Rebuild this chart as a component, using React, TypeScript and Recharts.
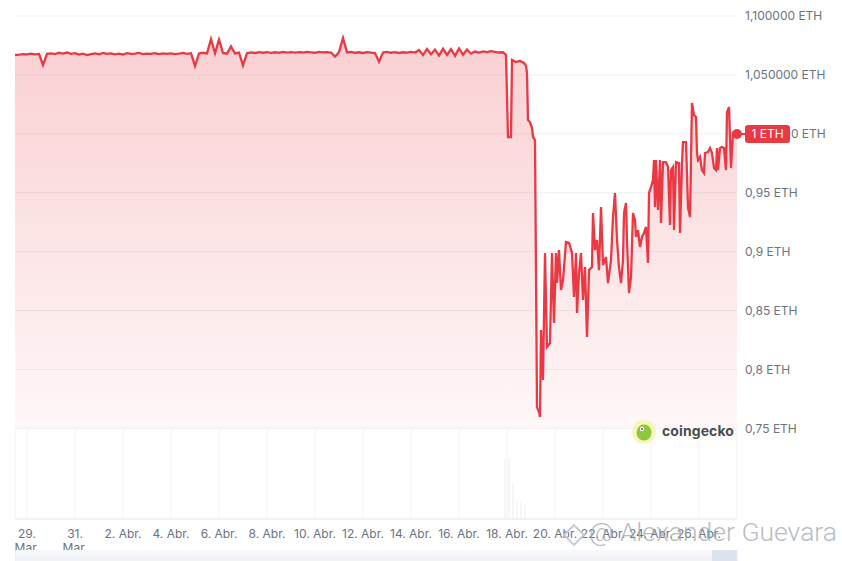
import React from "react";
import {
  ComposedChart,
  Area,
  Bar,
  XAxis,
  YAxis,
  CartesianGrid,
  ReferenceDot,
} from "recharts";

// time is in hours since 29 Mar 00:00
const steadyStartHour = -12;
const steadyStepHours = 4;
const steadyPrices = [
  1.0669, 1.0672, 1.0677, 1.0675, 1.068, 1.0674, 1.0678, 1.0584, 1.0679, 1.0683,
  1.0676, 1.0688, 1.0681, 1.069, 1.0679, 1.0685, 1.0672, 1.068, 1.0668, 1.0676,
  1.0683, 1.0674, 1.0686, 1.0679, 1.0682, 1.0675, 1.0681, 1.0673, 1.0684, 1.0678,
  1.068, 1.0686, 1.0676, 1.0681, 1.0679, 1.0684, 1.0677, 1.0682, 1.0679, 1.0683,
  1.0676, 1.0681, 1.0687, 1.0679, 1.0684, 1.0576, 1.0682, 1.0688, 1.0683, 1.0805,
  1.0684, 1.08, 1.0686, 1.068, 1.0742, 1.0682, 1.069, 1.058, 1.0684, 1.0691,
  1.0686, 1.0693, 1.0688, 1.0694, 1.0687, 1.0692, 1.0688, 1.0696, 1.069, 1.0694,
  1.0689, 1.0693, 1.069, 1.0696, 1.0692, 1.0688, 1.0695, 1.0691, 1.0694, 1.069,
  1.0655, 1.0693, 1.0813, 1.0691, 1.0696, 1.0688, 1.0692, 1.0686, 1.0694, 1.069,
  1.0685, 1.0612, 1.069, 1.0695, 1.0688, 1.0693, 1.0686, 1.0692, 1.0689, 1.0695,
  1.069, 1.0712, 1.0668, 1.072, 1.0675, 1.0715, 1.0664, 1.0722, 1.067, 1.0718,
  1.0662, 1.0725, 1.0672, 1.0716, 1.068, 1.0698, 1.069, 1.07, 1.0694, 1.0702,
  1.0696, 1.069, 1.0692,
];

const depegHours = [
  479, 481, 484, 485, 489, 493, 497, 499, 500, 501, 503, 505, 506, 508, 510, 512,
  513, 514, 516, 518, 520, 523, 525, 527, 529, 530, 532, 534, 536, 539, 542, 545,
  547, 549, 550, 552, 554, 556, 558, 560, 562, 565, 566, 568, 570, 572, 574, 576,
  579, 581, 584, 586, 588, 590, 592, 594, 596, 597, 599, 600, 602, 604, 606, 608,
  609, 611, 613, 615, 617, 619, 621, 622, 624, 626, 627, 628, 629, 631, 633, 634,
  636, 639, 641, 643, 644, 646, 647, 649, 652, 653, 655, 656, 659, 661, 663, 665,
  667, 669, 670, 671, 673, 675, 677, 678, 681, 683, 685, 687, 689, 690, 691, 693,
  695, 697, 699, 700, 702, 704, 706, 710,
];
const depegPrices = [
  1.0669, 0.9973, 0.9973, 1.0627, 1.061, 1.0618, 1.0601, 1.0576, 1.0516, 1.0117,
  1.01, 1.0049, 0.9973, 0.9947, 0.768, 0.7638, 0.7596, 0.8334, 0.791, 0.8988,
  0.819, 0.8224, 0.8988, 0.8394, 0.8988, 0.8733, 0.9013, 0.8674, 0.8759, 0.9081,
  0.9073, 0.8988, 0.8614, 0.8988, 0.8479, 0.8818, 0.8988, 0.8589, 0.8869, 0.8275,
  0.8843, 0.8869, 0.9327, 0.9013, 0.9098, 0.8843, 0.9378, 0.8886, 0.8954, 0.8733,
  0.8928, 0.9293, 0.9497, 0.9098, 0.8869, 0.8733, 0.8928, 0.9327, 0.9412, 0.9098,
  0.8648, 0.8784, 0.9327, 0.9268, 0.9124, 0.9183, 0.9039, 0.9124, 0.9158, 0.9209,
  0.8903, 0.9497, 0.9548, 0.9608, 0.9777, 0.9378, 0.9777, 0.9353, 0.9777, 0.9243,
  0.976, 0.976, 0.9718, 0.9226, 0.9692, 0.9718, 0.9183, 0.976, 0.9752, 0.9158,
  0.9752, 0.993, 0.993, 0.9378, 0.9293, 1.0261, 1.0159, 1.0142, 0.9837, 0.9777,
  0.9803, 0.9692, 0.9667, 0.9837, 0.9845, 0.9879, 0.9837, 0.9709, 0.9692, 0.9879,
  0.9692, 0.9879, 0.9888, 0.9879, 0.9692, 1.0185, 1.0227, 0.9709, 1.0007, 0.9998,
];

const volumeHours = [478, 482, 486, 490, 494, 498];
const volumes = [100, 100, 58, 30, 30, 25];

const tickHours = [0, 48, 96, 144, 192, 240, 288, 336, 384, 432, 480, 528, 576, 624, 672];
const tickLabels = [
  "29.|Mar.", "31.|Mar.", "2. Abr.", "4. Abr.", "6. Abr.", "8. Abr.", "10. Abr.",
  "12. Abr.", "14. Abr.", "16. Abr.", "18. Abr.", "20. Abr.", "22. Abr.", "24. Abr.",
  "26. Abr.",
];

const priceTicks = [0.75, 0.8, 0.85, 0.9, 0.95, 1, 1.05, 1.1];
const priceTickLabels = [
  "0,75 ETH", "0,8 ETH", "0,85 ETH", "0,9 ETH", "0,95 ETH", "1,000000 ETH",
  "1,050000 ETH", "1,100000 ETH",
];

const RED = "#ea3943";
const FONT = "Inter, 'Noto Sans', sans-serif";
const hourDomain = [-12, 710];
const priceDomain = [0.673, 1.1];

const priceRows = [
  ...steadyPrices.map((price, i) => ({ hour: steadyStartHour + i * steadyStepHours, price })),
  ...depegHours.map((hour, i) => ({ hour, price: depegPrices[i] })),
];
const volumeRows = volumeHours.map((hour, i) => ({ hour, volume: volumes[i] }));
const data = [...priceRows, ...volumeRows].sort((a, b) => a.hour - b.hour);

const lastHour = depegHours[depegHours.length - 1];
const lastPrice = depegPrices[depegPrices.length - 1];

const DateTick = (props: any) => {
  const { x, y, payload } = props;
  const label = tickLabels[tickHours.indexOf(payload.value)] || "";
  const lines = label.split("|");
  return (
    <text x={x} y={y} textAnchor="middle" fill="#6b7280" fontSize={12} fontFamily={FONT}>
      {lines.map((line, i) => (
        <tspan key={i} x={x} dy={i === 0 ? 19 : 14}>
          {line}
        </tspan>
      ))}
    </text>
  );
};

const PriceBadge = (props: any) => {
  const { cx, cy } = props;
  return (
    <g>
      <line x1={cx} y1={cy} x2={cx + 10} y2={cy} stroke={RED} strokeWidth={2} />
      <circle cx={cx} cy={cy} r={5} fill={RED} />
      <rect x={cx + 8} y={cy - 9} width={45} height={18} rx={3} fill={RED} />
      <text
        x={cx + 30.5}
        y={cy + 4}
        textAnchor="middle"
        fill="#fff"
        fontSize={12}
        fontFamily={FONT}
      >
        1 ETH
      </text>
    </g>
  );
};

const VolumeGridLine = (props: any) => {
  const { x1, x2, y2, key } = props;
  return <line key={key} x1={x1} x2={x2} y1={y2 - 91} y2={y2} stroke="#f2f3f6" />;
};

export default function App() {
  return (
    <div
      style={{
        position: "absolute",
        left: 0,
        top: 0,
        width: 842,
        height: 561,
        background: "#fff",
        overflow: "hidden",
        fontFamily: FONT,
      }}
    >
      <ComposedChart
        width={842}
        height={561}
        data={data}
        margin={{ top: 16, right: 0, bottom: 12, left: 15 }}
      >
        <defs>
          <linearGradient id="priceFill" x1="0" y1="0" x2="0" y2="1">
            <stop offset="0%" stopColor={RED} stopOpacity={0.24} />
            <stop offset="100%" stopColor={RED} stopOpacity={0.04} />
          </linearGradient>
        </defs>
        <CartesianGrid stroke="#eef0f3" vertical={VolumeGridLine} />
        <XAxis
          dataKey="hour"
          type="number"
          domain={hourDomain}
          ticks={tickHours}
          interval={0}
          tick={<DateTick />}
          tickLine={false}
          tickSize={0}
          tickMargin={0}
          axisLine={{ stroke: "#eceef2" }}
          height={30}
        />
        <YAxis
          orientation="right"
          width={105}
          domain={priceDomain}
          allowDataOverflow
          ticks={priceTicks}
          interval={0}
          tickFormatter={(v: number) => priceTickLabels[priceTicks.indexOf(v)] || ""}
          tick={{ fontSize: 12, fill: "#6b7280", fontFamily: FONT }}
          tickLine={false}
          tickSize={0}
          tickMargin={8}
          axisLine={false}
        />
        <YAxis yAxisId="vol" hide domain={[0, 825]} />
        <Bar
          yAxisId="vol"
          dataKey="volume"
          fill="#e8ebf1"
          barSize={4}
          isAnimationActive={false}
        />
        <Area
          type="linear"
          dataKey="price"
          stroke={RED}
          strokeWidth={2.3}
          fill="url(#priceFill)"
          fillOpacity={1}
          baseValue={0.75}
          connectNulls
          dot={false}
          activeDot={false}
          isAnimationActive={false}
        />
      </ComposedChart>

      {/* last price badge, drawn above the axis labels */}
      <div style={{ position: "absolute", left: 0, top: 0, pointerEvents: "none" }}>
        <ComposedChart
          width={842}
          height={561}
          data={priceRows}
          margin={{ top: 16, right: 105, bottom: 42, left: 15 }}
        >
          <XAxis dataKey="hour" type="number" domain={hourDomain} hide />
          <YAxis domain={priceDomain} allowDataOverflow hide />
          <ReferenceDot
            x={lastHour}
            y={lastPrice}
            r={5}
            ifOverflow="visible"
            shape={(p: any) => <PriceBadge {...p} />}
          />
        </ComposedChart>
      </div>

      {/* coingecko logo */}
      <div style={{ position: "absolute", left: 631, top: 419, width: 110, height: 26 }}>
        <svg width={26} height={26} style={{ position: "absolute", left: 0, top: 0 }}>
          <circle cx={13} cy={13} r={12} fill="#f6f3a6" opacity={0.75} />
          <ellipse cx={13} cy={13.5} rx={7.5} ry={8} fill="#8dc63f" />
          <circle cx={11} cy={10} r={2.2} fill="#fff" />
          <circle cx={11} cy={10} r={1} fill="#4a6b1d" />
        </svg>
        <span
          style={{
            position: "absolute",
            left: 31,
            top: 3,
            fontSize: 14,
            fontWeight: 700,
            color: "#4d4d4d",
            letterSpacing: 0.1,
          }}
        >
          coingecko
        </span>
      </div>

      {/* navigator strip */}
      <div
        style={{
          position: "absolute",
          left: 15,
          top: 550,
          width: 722,
          height: 11,
          background: "linear-gradient(#f8f9fa, #f1f2f5)",
          borderLeft: "1px solid #eceef2",
        }}
      />
      <div
        style={{
          position: "absolute",
          left: 712,
          top: 550,
          width: 25,
          height: 11,
          background: "#dde2ef",
        }}
      />

      {/* watermark */}
      <svg width={28} height={30} style={{ position: "absolute", left: 560, top: 520 }}>
        <rect
          x={7}
          y={8}
          width={14}
          height={14}
          transform="rotate(45 14 15)"
          fill="none"
          stroke="#c7cad0"
          strokeWidth={2}
        />
      </svg>
      <div
        style={{
          position: "absolute",
          left: 589,
          top: 516,
          fontSize: 26.5,
          fontWeight: 300,
          color: "rgba(165,169,177,0.8)",
          fontFamily: "Roboto, 'Noto Sans', sans-serif",
          whiteSpace: "nowrap",
        }}
      >
        @ Alexander Guevara
      </div>
    </div>
  );
}
